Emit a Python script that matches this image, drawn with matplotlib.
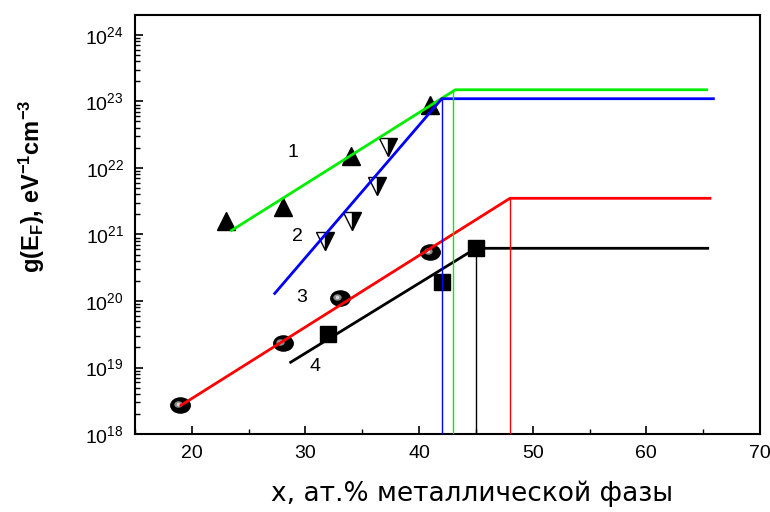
import matplotlib
matplotlib.use("Agg")
import matplotlib.pyplot as plt
import numpy as np
from matplotlib.path import Path
from matplotlib.transforms import Affine2D, offset_copy
from matplotlib.ticker import FixedLocator, NullFormatter, LogFormatterSciNotation

plt.rcParams['font.family'] = ['Liberation Sans', 'DejaVu Sans']
plt.rcParams['mathtext.fontset'] = 'custom'
plt.rcParams['mathtext.rm'] = 'Liberation Sans'
plt.rcParams['mathtext.it'] = 'Liberation Sans:italic'
plt.rcParams['mathtext.bf'] = 'Liberation Sans:bold'

# ---- data ----
x1 = [23, 28, 34, 41]
y1 = [1.6e21, 2.6e21, 1.5e22, 9e22]
x2 = [31.7, 34.1, 36.3, 37.3]
y2 = [8e20, 1.6e21, 5.4e21, 2.1e22]
x3 = [19, 28, 33, 41]
y3 = [2.7e18, 2.3e19, 1.1e20, 5.5e20]
x4 = [32, 42, 45]
y4 = [3.2e19, 1.9e20, 6.3e20]

fit1_x = [23.5, 43.2, 65.3]
fit1_y = [1.15e21, 1.5e23, 1.5e23]
fit2_x = [27.3, 42.0, 65.9]
fit2_y = [1.3e20, 1.1e23, 1.1e23]
fit3_x = [19.05, 48.0, 65.6]
fit3_y = [2.7e18, 3.5e21, 3.5e21]
fit4_x = [28.7, 45.0, 65.4]
fit4_y = [1.2e19, 6.2e20, 6.2e20]

vline_x = [43.0, 42.0, 48.0, 45.0]
vline_top = [1.5e23, 1.1e23, 3.5e21, 6.2e20]

labels = ['1', '2', '3', '4']
label_x = [28.9, 29.3, 29.7, 30.8]
label_y = [1.7e22, 9.3e20, 1.12e20, 1.05e19]

colors = ['#00ee00', '#0000ff', '#ff0000', '#000000']

xticks_major = [20, 30, 40, 50, 60, 70]
xticks_minor = [15, 25, 35, 45, 55, 65]
yticks_major = [1e18, 1e19, 1e20, 1e21, 1e22, 1e23, 1e24]

fig = plt.figure(figsize=(7.7, 5.12), dpi=100)
ax = fig.add_axes([0.1753, 0.1523, 0.8117, 0.8184])
ax.set_yscale('log')
ax.set_xlim(15, 70)
ax.set_ylim(1e18, 10**24.3)

# markers (below lines)
ax.plot(x1, y1, linestyle='none', marker='^', markersize=13, color='black', zorder=2)
ax.plot(x2, y2, linestyle='none', marker='v', markersize=13, fillstyle='right',
        markerfacecolor='black', markerfacecoloralt='white', markeredgecolor='black',
        markeredgewidth=1.0, zorder=2)
ell = Path.unit_circle().transformed(Affine2D().scale(1.0, 0.78))
ax.plot(x3, y3, linestyle='none', marker=ell, markersize=14, color='black', zorder=2)
hl = offset_copy(ax.transData, fig=fig, x=-2.0, y=0.8, units='points')
ax.plot(x3, y3, linestyle='none', marker=ell, markersize=6, color='#8a8a8a',
        markeredgewidth=0, transform=hl, zorder=2.1)
ax.plot(x3, y3, linestyle='none', marker='o', markersize=2.5, color='#d8d8d8',
        markeredgewidth=0, transform=hl, zorder=2.2)
ax.plot(x4, y4, linestyle='none', marker='s', markersize=11, color='black', zorder=2)

# fit lines
for fx, fy, c in zip([fit1_x, fit2_x, fit3_x, fit4_x], [fit1_y, fit2_y, fit3_y, fit4_y], colors):
    ax.plot(fx, fy, color=c, linewidth=2.0, zorder=3)
for vx, vt, c in zip(vline_x, vline_top, colors):
    ax.plot([vx, vx], [1e18, vt], color=c, linewidth=1.0, zorder=3)

for t, lx, ly in zip(labels, label_x, label_y):
    ax.text(lx, ly, t, fontsize=14, ha='center', va='center')

# axes styling
for s in ax.spines.values():
    s.set_linewidth(1.5)
ax.xaxis.set_major_locator(FixedLocator(xticks_major))
ax.xaxis.set_minor_locator(FixedLocator(xticks_minor))
yminor = [m * 10.0**e for e in range(18, 25) for m in range(2, 10) if m * 10.0**e <= 10**24.3]
ax.yaxis.set_major_locator(FixedLocator(yticks_major))
ax.yaxis.set_minor_locator(FixedLocator(yminor))
ax.yaxis.set_minor_formatter(NullFormatter())
ax.yaxis.set_major_formatter(LogFormatterSciNotation())
ax.tick_params(axis='both', which='both', direction='in', top=False, right=False)
ax.tick_params(axis='both', which='major', length=6, width=1.2, labelsize=14, pad=8)
ax.tick_params(axis='both', which='minor', length=3.5, width=1.0)

ax.set_ylabel(r'g(E$_\mathbf{F}$), eV$^\mathbf{-1}$cm$^\mathbf{-3}$', fontsize=17, fontweight='bold')
ax.yaxis.set_label_coords(-0.141, 0.59)
ax.set_xlabel('x, ат.% металлической фазы', fontsize=19, family=['DejaVu Sans'])
ax.xaxis.set_label_coords(0.54, -0.112)

fig.savefig('out.png', dpi=100)
